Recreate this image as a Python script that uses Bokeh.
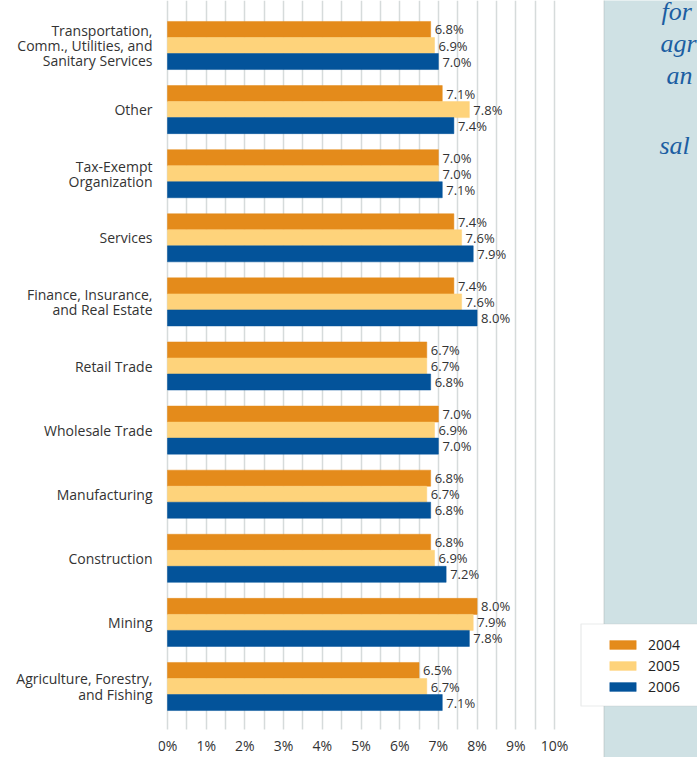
from bokeh.plotting import figure
from bokeh.models import (ColumnDataSource, FixedTicker, BoxAnnotation, Label,
                          Legend, LegendItem)
from bokeh.core.properties import value
from bokeh.transform import dodge
from bokeh.embed import file_html
from bokeh.resources import INLINE

# ---------------- data (bottom to top) ----------------
categories = [
    "Agriculture, Forestry,\nand Fishing",
    "Mining",
    "Construction",
    "Manufacturing",
    "Wholesale Trade",
    "Retail Trade",
    "Finance, Insurance,\nand Real Estate",
    "Services",
    "Tax-Exempt\nOrganization",
    "Other",
    "Transportation,\nComm., Utilities, and\nSanitary Services",
]
y2004 = [6.5, 8.0, 6.8, 6.8, 7.0, 6.7, 7.4, 7.4, 7.0, 7.1, 6.8]
y2005 = [6.7, 7.9, 6.9, 6.7, 6.9, 6.7, 7.6, 7.6, 7.0, 7.8, 6.9]
y2006 = [7.1, 7.8, 7.2, 6.8, 7.0, 6.8, 8.0, 7.9, 7.1, 7.4, 7.0]
years = ["2004", "2005", "2006"]
colors = ["#e48b1b", "#fed37b", "#03539a"]
x_ticks = [0, 1, 2, 3, 4, 5, 6, 7, 8, 9, 10]
x_tick_labels = ["0%", "1%", "2%", "3%", "4%", "5%", "6%", "7%", "8%", "9%", "10%"]
side_text = ["for", "agr", "an", "sal"]

# ---------------- geometry helpers ----------------
W, H = 697, 757
FRAME_LEFT = 158          # px
PX_X = 38.7               # px per percent
PX_Y = 64.1               # px per category
X0 = 167                  # x of 0%
Y0 = 686                  # y of first category centre
GRID_BOTTOM = 729         # bottom end of the grid lines


def dx(px):
    return (px - X0) / PX_X


def dy(py):
    return (Y0 - py) / PX_Y


FONT = "Open Sans"

p = figure(width=W, height=H, output_backend="svg", toolbar_location=None,
           x_range=(dx(FRAME_LEFT), dx(W)), y_range=(dy(H), dy(0)),
           min_border_left=FRAME_LEFT, min_border_right=0,
           min_border_top=0, min_border_bottom=0)
p.outline_line_color = None
p.background_fill_color = "white"
p.border_fill_color = "white"

p.xgrid.ticker = FixedTicker(ticks=[i * 0.5 for i in range(21)])
p.xgrid.grid_line_color = "#d6dbdb"
p.xgrid.grid_line_width = 1.5
p.ygrid.visible = False

# white strip below the grid (grid lines stop above the tick labels)
p.add_layout(BoxAnnotation(left=dx(0), right=dx(603.5), bottom=dy(H + 50), top=dy(GRID_BOTTOM),
                           fill_color="white", fill_alpha=1.0, line_color=None,
                           level="underlay"))
# right-hand panel
p.add_layout(BoxAnnotation(left=dx(603.5), right=dx(W + 100), bottom=dy(H + 100), top=dy(-100),
                           fill_color="#cfe1e4", fill_alpha=1.0,
                           line_color="#a7b0ad", line_width=1.5, level="underlay"))

idx = list(range(len(categories)))
src = ColumnDataSource(dict(idx=idx, y2004=y2004, y2005=y2005, y2006=y2006,
                            l2004=[f"{v:.1f}%" for v in y2004],
                            l2005=[f"{v:.1f}%" for v in y2005],
                            l2006=[f"{v:.1f}%" for v in y2006]))

offsets = [0.25, 0.0, -0.25]
renderers = []
for yr, col, off in zip(years, colors, offsets):
    r = p.hbar(y=dodge("idx", off), right="y" + yr, left=0, height=0.25,
               source=src, fill_color=col, line_color=col, line_width=0.5)
    renderers.append(r)
    p.text(x="y" + yr, y=dodge("idx", off), text="l" + yr, source=src,
           x_offset=4, text_baseline="middle", text_align="left",
           text_font=value(FONT), text_font_size="13px", text_color="#333333")

# axes
p.xaxis.fixed_location = dy(GRID_BOTTOM)
p.xaxis.ticker = FixedTicker(ticks=x_ticks)
p.xaxis.major_label_overrides = {t: l for t, l in zip(x_ticks, x_tick_labels)}
p.xaxis.axis_line_color = None
p.xaxis.major_tick_line_color = None
p.xaxis.minor_tick_line_color = None
p.xaxis.major_label_standoff = 0
p.xaxis.major_label_text_font = FONT
p.xaxis.major_label_text_font_size = "14px"
p.xaxis.major_label_text_color = "#333333"

p.yaxis.ticker = FixedTicker(ticks=idx)
p.yaxis.major_label_overrides = {i: c for i, c in zip(idx, categories)}
p.yaxis.axis_line_color = None
p.yaxis.major_tick_line_color = None
p.yaxis.minor_tick_line_color = None
p.yaxis.major_label_standoff = 0
p.yaxis.major_label_text_font = FONT
p.yaxis.major_label_text_font_size = "14px"
p.yaxis.major_label_text_color = "#333333"
p.yaxis.major_label_text_align = "right"
p.yaxis.major_label_text_line_height = 0.8

# side text fragments
for txt, (ix, iy) in zip(side_text, [(661, 11), (660, 43), (666, 75), (659, 145)]):
    p.add_layout(Label(x=dx(ix), y=dy(iy), text=txt, text_font="Liberation Serif",
                       text_font_style="italic", text_font_size="26px",
                       text_color="#1c5ea2", text_baseline="alphabetic"))

# legend box
p.add_layout(BoxAnnotation(left=dx(580.5), right=dx(W + 100), top=dy(623.5), bottom=dy(705.5),
                           fill_color="white", fill_alpha=1.0,
                           line_color="#b3bab8", line_width=1.2))

legend = Legend(items=[LegendItem(label=y, renderers=[r]) for y, r in zip(years, renderers)],
                location=(606 - FRAME_LEFT, H - 696), orientation="vertical",
                glyph_width=33, glyph_height=11, label_standoff=9, spacing=2,
                label_height=17, padding=0, margin=0,
                border_line_color=None, background_fill_alpha=0,
                label_text_font=FONT, label_text_font_size="14px",
                label_text_color="#222222")
p.add_layout(legend)

open("out.html", "w").write(file_html(p, INLINE))
